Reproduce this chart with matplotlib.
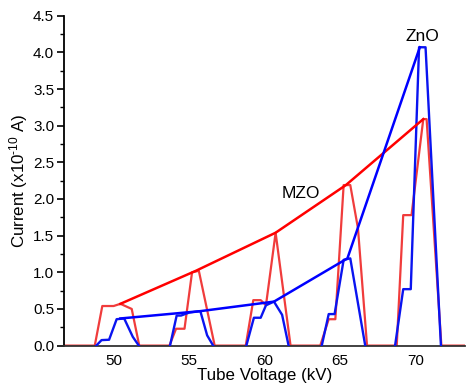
import matplotlib
matplotlib.use("Agg")
import matplotlib.pyplot as plt
from matplotlib.ticker import MultipleLocator

plt.rcParams['font.family'] = ['Liberation Sans', 'DejaVu Sans']
plt.rcParams['mathtext.fontset'] = 'custom'
plt.rcParams['mathtext.rm'] = 'Liberation Sans'
plt.rcParams['mathtext.default'] = 'regular'

# MZO pulses (red): voltage (kV) / current (x1e-10 A)
mzo_kv = [46.7, 48.75, 49.25, 50.0, 50.45, 51.2, 51.7,
          53.7, 54.14, 54.7, 55.2, 55.65, 56.7,
          58.76, 59.26, 59.75, 60.1, 60.74, 61.73,
          63.7, 64.26, 64.7, 65.25, 65.69, 66.2, 66.8,
          68.77, 69.2, 69.75, 70.53, 70.75, 71.73, 73.3]
mzo_i = [0.0, 0.0, 0.54, 0.54, 0.57, 0.5, 0.0,
         0.0, 0.23, 0.23, 1.0, 1.02, 0.0,
         0.0, 0.62, 0.62, 0.55, 1.54, 0.0,
         0.0, 0.36, 0.36, 2.19, 2.19, 1.6, 0.0,
         0.0, 1.78, 1.78, 3.09, 3.09, 0.0, 0.0]

# ZnO pulses (blue)
zno_kv = [[48.85, 49.2, 49.7, 50.2, 50.7, 51.27, 51.67],
          [53.74, 54.18, 54.47, 55.0, 55.75, 56.2, 56.6],
          [58.8, 59.3, 59.75, 60.1, 60.63, 61.17, 61.6],
          [63.8, 64.26, 64.65, 65.25, 65.69, 66.68],
          [68.66, 69.2, 69.7, 70.25, 70.68, 71.7]]
zno_i = [[0.0, 0.075, 0.08, 0.36, 0.37, 0.12, 0.0],
         [0.0, 0.41, 0.41, 0.45, 0.47, 0.14, 0.0],
         [0.0, 0.38, 0.38, 0.55, 0.6, 0.42, 0.0],
         [0.0, 0.43, 0.43, 1.17, 1.19, 0.0],
         [0.0, 0.77, 0.77, 4.07, 4.07, 0.0]]

# peak envelopes
mzo_env_kv = [50.45, 55.45, 60.74, 65.4, 70.53]
mzo_env_i = [0.57, 1.02, 1.54, 2.19, 3.09]
zno_env_kv = [50.45, 55.75, 60.63, 65.5, 70.3]
zno_env_i = [0.37, 0.47, 0.6, 1.19, 4.07]

fig = plt.figure(figsize=(4.66, 3.84), dpi=100)
ax = fig.add_axes([0.137, 0.100, 0.861, 0.859])

red_pulse = '#f03c3c'
ax.plot(mzo_kv, mzo_i, color=red_pulse, lw=1.6, zorder=2)
for xs, ys in zip(zno_kv, zno_i):
    ax.plot(xs, ys, color='#0a14f0', lw=1.7, zorder=3)
ax.plot(mzo_env_kv, mzo_env_i, color='#ff0000', lw=1.8, zorder=4)
ax.plot(zno_env_kv, zno_env_i, color='#0000ff', lw=1.8, zorder=4)

ax.text(70.5, 4.22, 'ZnO', fontsize=12.5, ha='center', va='center')
ax.text(62.4, 2.08, 'MZO', fontsize=12.5, ha='center', va='center')

ax.set_xlim(46.7, 73.3)
ax.set_ylim(0, 4.5)
ax.xaxis.set_major_locator(MultipleLocator(5))
ax.yaxis.set_major_locator(MultipleLocator(0.5))
ax.yaxis.set_minor_locator(MultipleLocator(0.25))
ax.yaxis.set_major_formatter(plt.FormatStrFormatter('%.1f'))
ax.tick_params(axis='x', length=0, pad=6, labelsize=11)
ax.tick_params(axis='y', which='major', length=5, width=1.2, pad=2, labelsize=11)
ax.tick_params(axis='y', which='minor', length=3, width=1.0)

for side in ['top', 'right']:
    ax.spines[side].set_visible(False)
ax.spines['left'].set_linewidth(1.3)
ax.spines['bottom'].set_linewidth(1.3)
ax.spines['bottom'].set_color('#333333')

ax.set_xlabel('Tube Voltage (kV)', fontsize=12.2, labelpad=0)
ax.set_ylabel('Current (x10$^{\u201010}$ A)', fontsize=12.2, labelpad=2)

fig.savefig('out.png', dpi=100)
